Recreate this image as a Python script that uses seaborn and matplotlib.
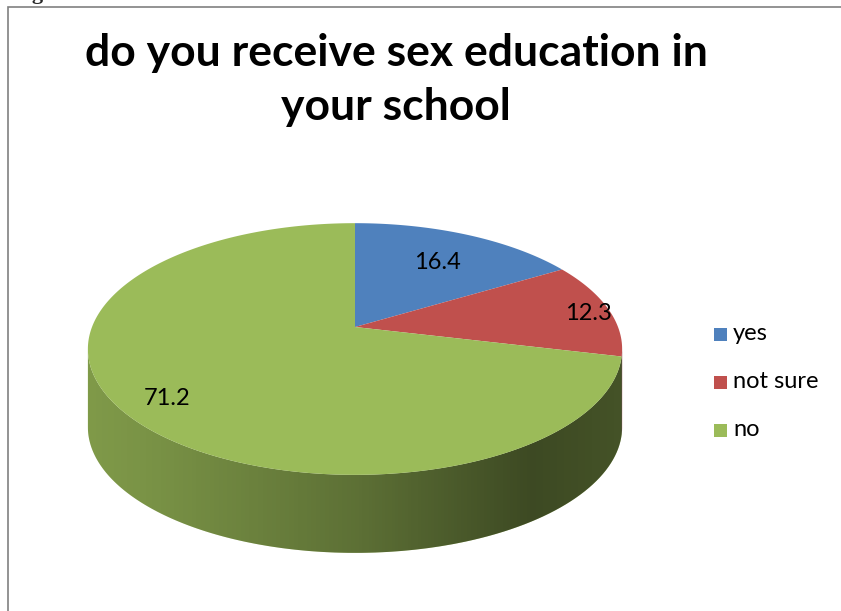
import numpy as np
import matplotlib
matplotlib.use("Agg")
import matplotlib.pyplot as plt
import seaborn as sns
from matplotlib.path import Path
from matplotlib.patches import Rectangle

# ---- data -------------------------------------------------------------
categories = ["yes", "not sure", "no"]
shares = [16.4, 12.3, 71.2]
title_lines = ["do you receive sex education in", "your school"]
caption = "Figure 5:"

# ---- style ------------------------------------------------------------
sns.set_theme(style="white")
plt.rcParams["font.family"] = ["Lato", "DejaVu Sans"]
palette = sns.color_palette(["#4F81BD", "#C0504D", "#9BBB59"])

W, H = 841, 611
fig = plt.figure(figsize=(W / 100, H / 100), dpi=100)
ax = fig.add_axes([0, 0, 1, 1])
ax.set_xlim(0, W)
ax.set_ylim(H, 0)
ax.axis("off")

# ---- tilted-disc projection (pixel space) ------------------------------
CX, CY = 355.0, 327.0      # apex of the pie
RX, RY = 263.0, 122.0      # half axes of the projected disc
K = 0.175                  # perspective foreshortening
DEPTH = 78.0               # thickness of the disc


def project(theta_deg, r=1.0, drop=0.0):
    t = np.radians(theta_deg)
    u, v = r * np.cos(t), r * np.sin(t)
    s = 1.0 + K * v
    return CX + RX * u / s, CY - RY * v / s + drop


# wedge angle ranges, clockwise from 12 o'clock
fracs = np.asarray(shares) / np.sum(shares)
ends = 90.0 - 360.0 * np.cumsum(fracs)
starts = np.concatenate([[90.0], ends[:-1]])

# front wall visible between the two silhouette angles
edge = np.degrees(np.arcsin(K))
vis_lo, vis_hi = -180.0 + edge, -edge


def overlap(lo, hi, a, b):
    for shift in (-360.0, 0.0, 360.0):
        l2, h2 = max(lo + shift, a), min(hi + shift, b)
        if h2 > l2:
            return l2, h2
    return None


def wall_xy(a, b, n=200):
    th = np.linspace(a, b, n)
    tx, ty = project(th)
    bx, by = project(th[::-1], drop=DEPTH)
    return np.concatenate([tx, bx]), np.concatenate([ty, by])


# side wall, coloured per wedge
for s, e, c in zip(starts, ends, palette):
    seg = overlap(e, s, vis_lo, vis_hi)
    if seg:
        xs, ys = wall_xy(*seg)
        ax.fill(xs, ys, color=c, lw=0, zorder=1)

# horizontal shading over the whole wall
wx, wy = wall_xy(vis_lo, vis_hi)
wall_path = Path(np.column_stack([wx, wy]))
xl, xr = wx.min(), wx.max()
ramp_t = [0.0, 0.12, 0.5, 0.83, 1.0]
ramp_a = [0.18, 0.22, 0.40, 0.61, 0.56]
grid = np.linspace(0, 1, 400)
shade = np.zeros((1, grid.size, 4))
shade[..., 3] = np.interp(grid, ramp_t, ramp_a)
im = ax.imshow(shade, extent=(xl, xr, wy.max(), wy.min()),
               aspect="auto", zorder=2, interpolation="bilinear")
im.set_clip_path(wall_path, ax.transData)

# top surface
for s, e, c in zip(starts, ends, palette):
    th = np.linspace(s, e, 300)
    px, py = project(th)
    ax.fill(np.concatenate([[CX], px]), np.concatenate([[CY], py]),
            color=c, lw=0, zorder=3)

# value labels
label_r = [0.70, 0.92, 0.83]
for s, e, v, r in zip(starts, ends, shares, label_r):
    lx, ly = project((s + e) / 2.0, r=r)
    ax.text(lx, ly + 3, f"{v:.1f}", ha="center", va="center",
            fontsize=17, color="black", zorder=4)

# legend
for i, (name, c) in enumerate(zip(categories, palette)):
    y = 334 + 48 * i
    ax.add_patch(Rectangle((714, y - 6.5), 13, 13, color=c, lw=0))
    ax.text(733, y, name, ha="left", va="center", fontsize=17, color="black")

# title
ax.text(396, 66, title_lines[0], ha="center", va="baseline",
        fontsize=32, fontweight="bold", color="black")
ax.text(396, 120, title_lines[1], ha="center", va="baseline",
        fontsize=32, fontweight="bold", color="black")

# frame and caption (caption sits just above the top edge)
ax.plot([8, 8, W], [H, 7, 7], color="#808080", lw=1.2, solid_joinstyle="miter")
ax.text(12, -0.5, caption, ha="left", va="baseline", fontsize=16,
        fontweight="bold", family=["Liberation Serif", "DejaVu Serif"])

ax.set_xlim(0, W)
ax.set_ylim(H, 0)
fig.savefig("out.png", dpi=100)
